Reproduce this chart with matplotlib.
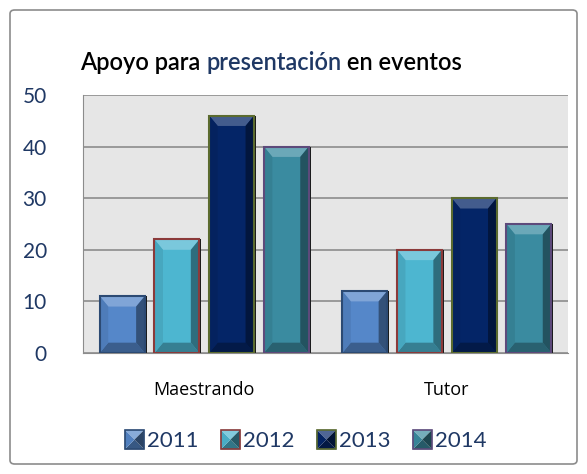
import matplotlib.pyplot as plt
import numpy as np
from matplotlib.patches import Polygon, Rectangle, FancyBboxPatch
from matplotlib.legend_handler import HandlerPatch
from matplotlib.colors import to_rgb

categorias = ['Maestrando', 'Tutor']
anios = ['2011', '2012', '2013', '2014']
valores_2011 = [11, 12]
valores_2012 = [22, 20]
valores_2013 = [46, 30]
valores_2014 = [40, 25]
series = [valores_2011, valores_2012, valores_2013, valores_2014]

colores = ['#5587c9', '#4db6d0', '#042567', '#3a8ba0']
bordes = ['#2c4a73', '#8b3a3a', '#5b6b2f', '#5d4a7b']
azul_texto = '#1f3864'


def mezclar(c, otro, t):
    a = to_rgb(c)
    b = to_rgb(otro)
    return tuple((1 - t) * a[i] + t * b[i] for i in range(3))


class HandlerPiramide(HandlerPatch):
    def create_artists(self, legend, orig_handle, xdescent, ydescent,
                       width, height, fontsize, trans):
        lado = min(width, height) * 1.1
        x0 = -xdescent + (width - lado) / 2
        y0 = -ydescent + (height - lado) / 2
        cx, cy = x0 + lado / 2, y0 + lado / 2
        c = orig_handle.get_facecolor()
        e = orig_handle.get_edgecolor()
        caras = [
            ([(x0, y0 + lado), (x0 + lado, y0 + lado), (cx, cy)], mezclar(c, 'white', 0.3)),
            ([(x0, y0), (x0 + lado, y0), (cx, cy)], mezclar(c, 'black', 0.35)),
            ([(x0, y0), (x0, y0 + lado), (cx, cy)], mezclar(c, 'black', 0.05)),
            ([(x0 + lado, y0), (x0 + lado, y0 + lado), (cx, cy)], mezclar(c, 'black', 0.5)),
        ]
        artistas = []
        for pts, col in caras:
            p = Polygon(pts, closed=True, facecolor=col, edgecolor='none', transform=trans)
            artistas.append(p)
        borde = Rectangle((x0, y0), lado, lado, fill=False, edgecolor=e, linewidth=1.2,
                          transform=trans)
        artistas.append(borde)
        return artistas


plt.rcParams['font.family'] = ['Lato', 'DejaVu Sans']

fig = plt.figure(figsize=(5.87, 4.74), dpi=100)
ax = fig.add_axes([83 / 587, 121 / 474, 485 / 587, 258 / 474])
ax.set_facecolor('#e6e6e6')

x = np.arange(len(categorias))
paso = 0.2256
ancho = 0.185
bx, by = 0.035, 2.0

for i, vals in enumerate(series):
    barras = ax.bar(x + (i - 1.5) * paso, vals, ancho, color=colores[i],
                    edgecolor='none', zorder=2, label=anios[i])
    for b in barras:
        x0, w, h = b.get_x(), b.get_width(), b.get_height()
        c = colores[i]
        caras = [
            ([(x0, h), (x0 + w, h), (x0 + w - bx, h - by), (x0 + bx, h - by)], mezclar(c, 'white', 0.25)),
            ([(x0, 0), (x0 + w, 0), (x0 + w - bx, by), (x0 + bx, by)], mezclar(c, 'black', 0.3)),
            ([(x0, 0), (x0, h), (x0 + bx, h - by), (x0 + bx, by)], mezclar(c, 'black', 0.08)),
            ([(x0 + w, 0), (x0 + w, h), (x0 + w - bx, h - by), (x0 + w - bx, by)], mezclar(c, 'black', 0.4)),
        ]
        for pts, col in caras:
            ax.add_patch(Polygon(pts, closed=True, facecolor=col, edgecolor='none', zorder=3))
        ax.add_patch(Rectangle((x0, 0), w, h, fill=False, edgecolor=bordes[i],
                               linewidth=1.5, zorder=4))
        ax.add_patch(Rectangle((x0 + w, 0), 0.008, h, facecolor='#1a1a1a',
                               edgecolor='none', zorder=1.9))

ax.set_xlim(-0.5, 1.5)
ax.set_ylim(0, 50)
ax.set_yticks(range(0, 51, 10))
ax.yaxis.grid(True, color='#8c8c8c', linewidth=1.2, zorder=0)
ax.set_axisbelow(True)
ax.set_xticks(x)
ax.set_xticklabels(categorias, fontsize=13, color='black', family=['Open Sans', 'DejaVu Sans'])
ax.tick_params(axis='x', length=0, pad=20)
ax.tick_params(axis='y', length=0, pad=26, labelsize=15, labelcolor=azul_texto)
for lado in ['top', 'right']:
    ax.spines[lado].set_visible(False)
ax.spines['left'].set_color('#8c8c8c')
ax.spines['bottom'].set_color('#8c8c8c')

# titulo en dos colores
t1 = fig.text(80 / 587, 1 - 62 / 474, 'Apoyo para ', fontsize=17, fontweight='semibold',
              color='black', va='center')
t2 = ax.annotate('presentación', xy=(1, 0), xycoords=t1, fontsize=17, fontweight='semibold',
                 color=azul_texto, va='bottom')
t3 = ax.annotate(' en eventos', xy=(1, 0), xycoords=t2, fontsize=17, fontweight='semibold',
                 color='black', va='bottom')

handles = [Rectangle((0, 0), 1, 1, facecolor=colores[i], edgecolor=bordes[i]) for i in range(4)]
fig.legend(handles, anios, loc='center', bbox_to_anchor=(0.521, 1 - 441 / 474), ncol=4,
           frameon=False, fontsize=16, labelcolor=azul_texto, handlelength=0.85,
           handleheight=0.85, handletextpad=0.15, columnspacing=1.0,
           handler_map={Rectangle: HandlerPiramide()})

fig.patches.append(FancyBboxPatch((10 / 587, 10 / 474), 567 / 587, 454 / 474,
                                  boxstyle='round,pad=0,rounding_size=0.008',
                                  transform=fig.transFigure, fill=False,
                                  edgecolor='#8c8c8c', linewidth=1.2))

fig.savefig('out.png', dpi=100)
